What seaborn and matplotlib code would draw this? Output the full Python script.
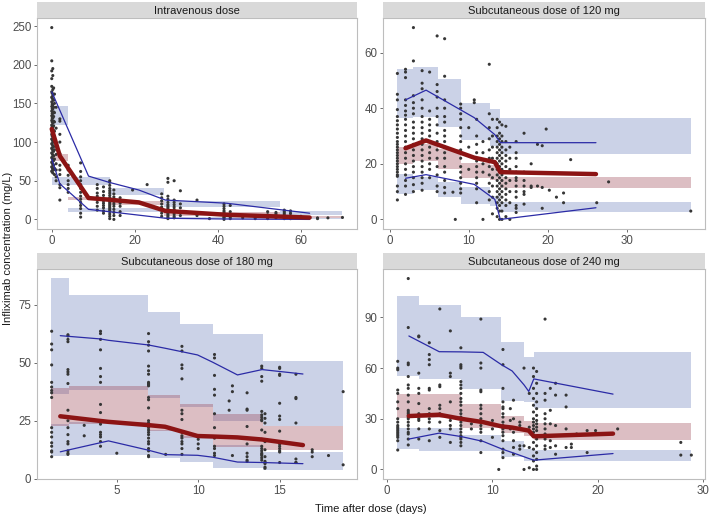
import matplotlib
matplotlib.use("Agg")
import matplotlib.pyplot as plt
import seaborn as sns
import numpy as np
import pandas as pd

sns.set_style("white")
plt.rcParams['font.family'] = ['Liberation Sans', 'DejaVu Sans']

# ---------------- data ----------------
panel_titles = ["Intravenous dose", "Subcutaneous dose of 120 mg",
                "Subcutaneous dose of 180 mg", "Subcutaneous dose of 240 mg"]

# --- Intravenous dose ---
iv_obs = [
    (0.05, [248, 205, 192, 182, 172, 165, 158, 152, 146, 140, 134, 128, 122, 116, 110, 104, 98, 92, 86, 80, 74, 68, 62]),
    (0.15, [163, 157, 149, 143, 137, 131, 126, 120, 114, 108, 103, 97, 91, 85, 79, 73, 67, 63]),
    (0.3, [195, 186, 168, 160, 155, 148, 143, 137, 131, 125, 119, 113, 107, 101, 95, 89, 83, 77, 71, 65, 60]),
    (0.5, [170, 154, 145, 139, 133, 127, 121, 115, 109, 100, 94, 88, 82, 76, 70, 64]),
    (0.7, [162, 150, 138, 126, 114, 102, 90, 78, 66, 58]),
    (1.1, [145, 118, 96, 84, 72, 64, 55, 50]),
    (2.0, [130, 127, 110, 100, 85, 70, 64, 58, 45, 41, 25]),
    (4.0, [70, 64, 57, 50, 45, 40, 35]),
    (7.0, [73, 62, 55, 50, 45, 40, 35, 30, 26, 22, 18, 14, 8, 3]),
    (11.0, [45, 40, 34, 30, 26, 22, 17, 12]),
    (12.5, [42, 36, 31, 27, 24, 21, 18, 15, 11, 8]),
    (14.0, [50, 48, 44, 40, 37, 34, 31, 28, 26, 24, 22, 20, 18, 16, 14, 12, 10, 7, 4, 1]),
    (15.0, [38, 33, 29, 26, 23, 20, 17, 13, 9, 5, 0]),
    (16.5, [28, 24, 21, 17, 10, 5]),
    (19.5, [38]),
    (23.0, [45]),
    (26.5, [33, 28, 24, 20, 16, 12, 8, 4]),
    (28.0, [53, 48, 30, 26, 22, 19, 17, 15, 13, 11, 9, 7, 5, 3, 1]),
    (29.5, [50, 25, 22, 19, 16, 13, 10, 7, 4, 2]),
    (31.0, [37, 20, 15, 10, 5]),
    (35.0, [25, 5]),
    (38.0, [1]),
    (41.5, [20, 17, 14, 11, 9, 7, 5, 3, 2, 0]),
    (43.0, [18, 10, 6, 3, 1]),
    (46.0, [5, 2]),
    (49.0, [3, 1]),
    (52.0, [10, 6, 3, 1]),
    (54.0, [9, 7, 5, 3, 2]),
    (56.0, [12, 10, 8, 6, 4, 2, 1]),
    (57.5, [11, 8, 5, 3, 1]),
    (60.0, [4, 2]),
    (64.0, [1, 2]),
    (66.5, [2]),
    (70.0, [2.5]),
]
iv_edges = [0.2, 4, 14, 27, 55, 70]
iv_p95_lo = [122, 45, 32, 16, 6]
iv_p95_hi = [146, 55, 41, 24, 11]
iv_p50_lo = [76, 25, 19, 4, 1.5]
iv_p50_hi = [85, 29.5, 24, 9, 4]
iv_p05_lo = [45, 10, 10, 0, 0]
iv_p05_hi = [55, 15, 15, 3, 2]
iv_line_t = [0.05, 2, 8.9, 13.8, 21, 27.4, 42, 62.1]
iv_line_p95 = [165, 141, 56, 48, 38, 25, 21, 8]
iv_line_p50 = [117, 82, 27.6, 25.5, 22, 11, 6, 2.4]
iv_line_p05 = [78, 46, 13, 10, 5.5, 1.5, 0.5, 0]

# --- SC 120 mg ---
sc120_obs = [
    (0.97, [52.5, 45, 43, 39.5, 37, 35.5, 34, 32.5, 31, 29.5, 28, 27, 26, 25, 24, 23, 22, 21, 20, 19, 18, 17, 16, 15.5, 12, 10, 7]),
    (2.0, [54, 53, 51, 43, 41, 39, 37.5, 36, 34, 32, 30, 28, 26, 24, 22, 20, 18, 16, 14, 12, 9]),
    (3.0, [69, 57, 44.5, 42, 40, 38, 35, 33, 31, 29, 27, 25, 23, 21, 19, 17, 15, 12.5, 10]),
    (4.1, [53.5, 49, 47, 43, 40, 37, 35, 33, 31, 29, 27, 25, 23, 21, 19, 17, 15, 13, 10.5]),
    (5.05, [53, 39, 36, 34, 32, 30, 28, 26, 24, 22, 20, 18, 15]),
    (6.0, [66, 48.5, 46, 44, 40, 37, 34, 31, 28, 25, 22, 19, 16, 12, 10]),
    (6.95, [65, 51.5, 43, 40, 37, 35, 32, 30, 28, 26, 24, 22, 19, 17, 14, 11.5, 9.5]),
    (8.0, [9.8]),
    (8.3, [0]),
    (8.98, [41.5, 40, 38, 36, 33, 30, 28, 25, 22, 19, 17, 15, 13, 11, 9.5]),
    (10.0, [33, 26, 18]),
    (10.7, [43, 42]),
    (11.0, [36, 30, 27, 24, 21, 19, 17, 15, 13, 11, 6]),
    (11.8, [28, 24, 20, 17, 0]),
    (12.6, [55.8, 38, 33, 29, 25, 22, 19, 16, 13, 10, 7]),
    (13.0, [36, 30, 26, 22, 18, 15, 12, 8, 2]),
    (13.6, [36, 33, 30, 28, 26, 24, 22, 20, 18, 16, 14, 12, 10, 8, 6, 4, 1]),
    (13.9, [35, 31, 29, 27, 25, 23, 21, 19, 17, 15, 13, 11, 9, 7, 5, 3, 0]),
    (14.2, [34, 30, 28, 26, 24, 22, 20, 18, 16, 14, 12, 10, 8, 6, 3, 0]),
    (14.7, [33.5, 28, 25, 23, 21, 19, 17, 15, 13, 11, 9, 7, 5, 1]),
    (15.2, [26, 22, 18, 14, 10, 6, 0]),
    (16.0, [28, 24, 22, 19, 17, 15, 14, 12, 10, 8, 5, 4, 2.5]),
    (17.0, [31, 17, 14, 12, 10, 9, 5.5]),
    (17.9, [20, 12, 11.5]),
    (18.7, [27, 12]),
    (19.3, [26.5, 11.5, 4]),
    (19.8, [32.5]),
    (20.2, [10.5]),
    (21.1, [8]),
    (22.0, [9.5, 6]),
    (22.9, [21.5]),
    (26.2, [6]),
    (27.7, [13.5]),
    (38.1, [3]),
]
sc120_edges = [0.93, 2.95, 6.1, 9.05, 12.75, 13.97, 38.1]
sc120_p95_lo = [36.6, 36.7, 33.1, 28.4, 26.4, 23.4]
sc120_p95_hi = [54.2, 54.7, 50.4, 41.8, 39.8, 36.4]
sc120_p50_lo = [19.9, 21, 18.2, 15, 14, 11.2]
sc120_p50_hi = [26.1, 27, 25.3, 20.3, 19.5, 15.1]
sc120_p05_lo = [9.1, 10.4, 7.9, 5.5, 4.8, 2.8]
sc120_p05_hi = [16.3, 15.4, 13.3, 11.5, 8.4, 6.2]
sc120_line_t = [2, 4.6, 10.7, 13.3, 14, 26.1]
sc120_line_p95 = [43, 46.5, 36.6, 30.5, 27.6, 27.6]
sc120_line_p50 = [25.6, 28.4, 22.2, 20.6, 17, 16.3]
sc120_line_p05 = [14.8, 16.1, 12.6, 7.2, 0, 4.2]

# --- SC 180 mg ---
sc180_obs = [
    (1.0, [63.5, 58, 55.5, 49, 41.5, 39.5, 38, 37, 35, 22, 20, 18, 15.5, 14, 12, 11.5, 9.5]),
    (2.0, [62, 61.5, 60, 59, 47, 46, 45, 41, 29.5, 25, 22, 19, 16, 15, 12, 11, 10.5]),
    (3.0, [23, 18.5]),
    (4.0, [63.5, 62.5, 60, 55.5, 47.5, 44, 41.5, 32, 28.5, 25, 23.5, 20, 19, 18, 16, 14]),
    (5.0, [11]),
    (6.95, [62.5, 59, 57.5, 55, 48.5, 46.5, 45, 41.5, 41, 40.5, 40, 35, 34, 30.5, 25, 24, 23, 22, 21, 20, 19, 17.5, 16, 15, 13, 12, 10, 9.5]),
    (8.0, [10.5]),
    (9.0, [57, 55, 49, 47.5, 43, 29.5, 28, 25.5, 20, 18.5, 17.5, 16, 15, 13, 10.5]),
    (10.0, [17, 15, 13]),
    (11.0, [53.5, 52, 44.5, 38.5, 36, 28, 22, 18, 17.5, 14, 13, 11, 10]),
    (11.9, [33.5, 29.5]),
    (12.1, [40, 37.5, 10]),
    (13.0, [37, 30, 29.5, 22.5, 15, 11, 9.5, 8, 7.5]),
    (13.9, [48.5, 47.5, 44, 42, 29, 27.5, 26.5, 25.5, 25, 21, 17, 14, 13, 12, 11, 10.5, 10, 9, 8]),
    (14.1, [28, 26, 24, 20, 16, 12.5, 9.5, 7.5, 7, 6.5, 5, 4.5]),
    (15.0, [48, 47.5, 45, 44.5, 32.5, 27, 25.5, 20.5, 15, 14, 13, 12, 11.5, 7]),
    (16.0, [45, 35, 34.5, 24, 8.5, 7, 7]),
    (17.0, [12.5, 11.5, 9.5]),
    (18.0, [10]),
    (18.9, [37.5, 6]),
]
sc180_edges = [0.96, 2.06, 6.92, 8.9, 10.92, 13.95, 18.92]
sc180_p95_lo = [36.5, 38.3, 34.9, 31.1, 25.0, 22.7]
sc180_p95_hi = [86.4, 78.9, 71.9, 66.6, 62.4, 50.9]
sc180_p50_lo = [22.9, 23.6, 20.4, 17.7, 13.8, 12.4]
sc180_p50_hi = [39.1, 40.1, 36.1, 32.2, 27.9, 22.7]
sc180_p05_lo = [9.6, 10.2, 8.9, 7.4, 4.8, 3.7]
sc180_p05_hi = [23.5, 24.3, 21.0, 18.3, 14.4, 11.4]
sc180_line_t = [1.53, 3.98, 4.49, 6.94, 7.96, 9.96, 10.88, 12.41, 13.92, 16.43]
sc180_line_p95 = [61.6, 60.2, 59.6, 57.6, 56.2, 53.3, 50.2, 44.7, 47.0, 45.1]
sc180_line_p50 = [26.9, 24.9, 24.5, 23.1, 22.4, 18.4, 18.2, 17.8, 16.9, 14.5]
sc180_line_p05 = [11.6, 15.5, 16.3, 12.3, 10.4, 10.1, 9.3, 7.2, 7.0, 6.5]

# --- SC 240 mg ---
sc240_obs = [
    (1.0, [64, 60, 59, 47, 45, 40, 36, 30, 28, 26, 25, 24, 23, 22, 21, 20, 19, 17, 11.5]),
    (2.0, [113, 84, 63, 62, 55, 50, 48, 44, 40, 35, 34, 33, 32, 31, 30, 28, 26, 24, 22, 21, 18, 14.5]),
    (3.0, [79, 78.5, 57, 48, 45, 39, 33, 30, 29, 24, 18]),
    (4.0, [75, 68, 65, 62, 48, 47, 36, 33, 30, 28, 24, 17]),
    (5.0, [95, 50, 49, 38, 36, 33, 28, 23, 19]),
    (6.0, [82, 57, 55, 40, 31, 29, 26, 24, 16]),
    (7.0, [72, 62, 61, 60, 52, 50, 48, 45, 42, 40, 38, 35, 33, 31, 30, 28, 26, 24, 22, 20, 19, 18, 16, 14]),
    (8.0, [27, 24]),
    (8.9, [89, 63, 60, 47, 46, 38, 36, 33, 30, 28, 26, 24, 22, 17, 10]),
    (10.0, [29, 24, 19]),
    (10.6, [0]),
    (11.0, [71, 62, 48, 40, 37, 36, 33, 31, 28, 26, 24, 22, 20, 17, 12, 10, 7]),
    (11.7, [36, 29, 24]),
    (12.0, [41, 30, 22, 17, 13, 9]),
    (12.6, [28, 26, 14, 12]),
    (13.0, [60, 14, 0]),
    (13.5, [45, 25, 13, 1]),
    (13.9, [60, 55, 48, 42, 38, 34, 30, 28, 26, 24, 22, 20, 16, 12, 8, 5, 0]),
    (14.2, [58, 51, 45, 40, 36, 32, 29, 27, 25, 23, 18, 14, 10, 6, 2, 0]),
    (15.0, [89, 45, 41, 33, 30, 27, 24, 21, 18, 14, 12]),
    (15.5, [48, 35, 27, 17, 13]),
    (16.0, [51, 44, 26, 14, 9]),
    (17.0, [44, 37, 24, 13]),
    (17.5, [13, 15]),
    (18.0, [21]),
    (19.0, [10, 23]),
    (19.8, [23]),
    (21.9, [24]),
    (27.9, [16, 8.5]),
    (28.9, [8.5]),
]
sc240_edges = [0.95, 3.04, 6.99, 10.86, 13.01, 13.93, 28.9]
sc240_p95_lo = [55.6, 53.6, 47.7, 40.3, 40.2, 36.4]
sc240_p95_hi = [102.7, 97.2, 90.4, 75.4, 66.8, 69.7]
sc240_p50_lo = [30.6, 30.6, 24.5, 21.5, 19.7, 17.7]
sc240_p50_hi = [44.8, 44.8, 38.5, 31.4, 28.5, 27.5]
sc240_p05_lo = [12.4, 11.0, 10.9, 7.3, 5.0, 4.8]
sc240_p05_hi = [24.5, 24.5, 20.6, 17.0, 12.0, 11.7]
sc240_line_t = [2.06, 4.94, 7.0, 9.12, 10.86, 11.87, 13.01, 13.45, 13.93, 21.46]
sc240_line_p95 = [79.0, 69.7, 69.6, 69.3, 62.0, 58.3, 50.0, 46.2, 53.6, 44.6]
sc240_line_p50 = [31.6, 32.4, 30.0, 28.0, 25.5, 24.8, 23.5, 23.0, 19.6, 21.2]
sc240_line_p05 = [18.0, 21.5, 19.5, 16.6, 12.2, 10.0, 7.5, 6.5, 5.5, 9.4]

# ---------------- styling ----------------
W, H = 709, 519
BLUE_BAND = '#cbd2e7'
RED_BAND = (155/255, 69/255, 83/255)
RED_ALPHA = 0.35
RED_LINE = '#8c1414'
BLUE_LINE = '#2b2ba6'
POINT = '#363636'
BORDER = '#bdbdbd'
STRIP = '#d9d9d9'
TICK_FS = 8.3
TEXT_FS = 8.0

fig = plt.figure(figsize=(W/100, H/100), dpi=100)


def add_ax(l, t, r, b):
    return fig.add_axes([l/W, 1 - b/H, (r - l)/W, (b - t)/H])


def steps(vals):
    return list(vals) + [vals[-1]]


panels = [
    dict(box=(37, 18, 357, 229), strip=(37, 2, 357, 18), obs=iv_obs,
         edges=iv_edges, bands=[(iv_p95_lo, iv_p95_hi), (iv_p05_lo, iv_p05_hi)],
         mid=(iv_p50_lo, iv_p50_hi), lt=iv_line_t,
         lines=(iv_line_p95, iv_line_p50, iv_line_p05),
         xlim=(-3.5, 73.5), ylim=(-12.4, 260.4), xt=[0, 20, 40, 60], yt=[0, 50, 100, 150, 200, 250]),
    dict(box=(383, 18, 705, 229), strip=(383, 2, 705, 18), obs=sc120_obs,
         edges=sc120_edges, bands=[(sc120_p95_lo, sc120_p95_hi), (sc120_p05_lo, sc120_p05_hi)],
         mid=(sc120_p50_lo, sc120_p50_hi), lt=sc120_line_t,
         lines=(sc120_line_p95, sc120_line_p50, sc120_line_p05),
         xlim=(-0.85, 39.9), ylim=(-3.45, 72.45), xt=[0, 10, 20, 30], yt=[0, 20, 40, 60]),
    dict(box=(37, 269, 357, 479), strip=(37, 253, 357, 269), obs=sc180_obs,
         edges=sc180_edges, bands=[(sc180_p95_lo, sc180_p95_hi), (sc180_p05_lo, sc180_p05_hi)],
         mid=(sc180_p50_lo, sc180_p50_hi), lt=sc180_line_t,
         lines=(sc180_line_p95, sc180_line_p50, sc180_line_p05),
         xlim=(0.1, 19.75), ylim=(-0.1, 90.3), xt=[5, 10, 15], yt=[0, 25, 50, 75]),
    dict(box=(383, 269, 705, 479), strip=(383, 253, 705, 269), obs=sc240_obs,
         edges=sc240_edges, bands=[(sc240_p95_lo, sc240_p95_hi), (sc240_p05_lo, sc240_p05_hi)],
         mid=(sc240_p50_lo, sc240_p50_hi), lt=sc240_line_t,
         lines=(sc240_line_p95, sc240_line_p50, sc240_line_p05),
         xlim=(-0.4, 30.2), ylim=(-5.65, 118.65), xt=[0, 10, 20, 30], yt=[0, 30, 60, 90]),
]

for title, p in zip(panel_titles, panels):
    ax = add_ax(*p['box'])
    ax.set_facecolor('white')
    for lo, hi in p['bands']:
        ax.fill_between(p['edges'], steps(lo), steps(hi), step='post',
                        color=BLUE_BAND, lw=0, zorder=1)
    ax.fill_between(p['edges'], steps(p['mid'][0]), steps(p['mid'][1]), step='post',
                    color=RED_BAND, alpha=RED_ALPHA, lw=0, zorder=1.5)
    rows = [(t, c) for t, cs in p['obs'] for c in cs]
    df = pd.DataFrame(rows, columns=['time', 'conc'])
    sns.scatterplot(data=df, x='time', y='conc', ax=ax, color=POINT, s=5,
                    linewidth=0, edgecolor='none', zorder=2, legend=False)
    p95, p50, p05 = p['lines']
    ldf = pd.DataFrame({'time': p['lt'], 'p95': p95, 'p50': p50, 'p05': p05})
    sns.lineplot(data=ldf, x='time', y='p95', ax=ax, color=BLUE_LINE, lw=0.9,
                 estimator=None, sort=False, zorder=3)
    sns.lineplot(data=ldf, x='time', y='p05', ax=ax, color=BLUE_LINE, lw=0.9,
                 estimator=None, sort=False, zorder=3)
    sns.lineplot(data=ldf, x='time', y='p50', ax=ax, color=RED_LINE, lw=3.2,
                 estimator=None, sort=False, zorder=4)
    ax.set_xlim(*p['xlim'])
    ax.set_ylim(*p['ylim'])
    ax.set_xticks(p['xt'])
    ax.set_yticks(p['yt'])
    ax.set_xlabel('')
    ax.set_ylabel('')
    for s in ax.spines.values():
        s.set_visible(True)
        s.set_color(BORDER)
        s.set_linewidth(0.8)
    ax.tick_params(axis='both', which='both', direction='out', length=2.5, width=0.6,
                   color='#555555', labelsize=TICK_FS, labelcolor='#4d4d4d', pad=1.5,
                   bottom=True, left=True)
    sax = add_ax(*p['strip'])
    sax.set_facecolor(STRIP)
    sax.set_xticks([])
    sax.set_yticks([])
    for s in sax.spines.values():
        s.set_visible(False)
    sax.text(0.5, 0.45, title, ha='center', va='center', fontsize=TEXT_FS,
             color='#1a1a1a', transform=sax.transAxes)

fig.text(8/W, 1 - 248.5/H, 'Infliximab concentration (mg/L)', rotation=90,
         ha='center', va='center', fontsize=TEXT_FS, color='#1a1a1a')
fig.text(371/W, 1 - 509/H, 'Time after dose (days)', ha='center', va='center',
         fontsize=TEXT_FS, color='#1a1a1a')

fig.savefig('out.png', dpi=100)
